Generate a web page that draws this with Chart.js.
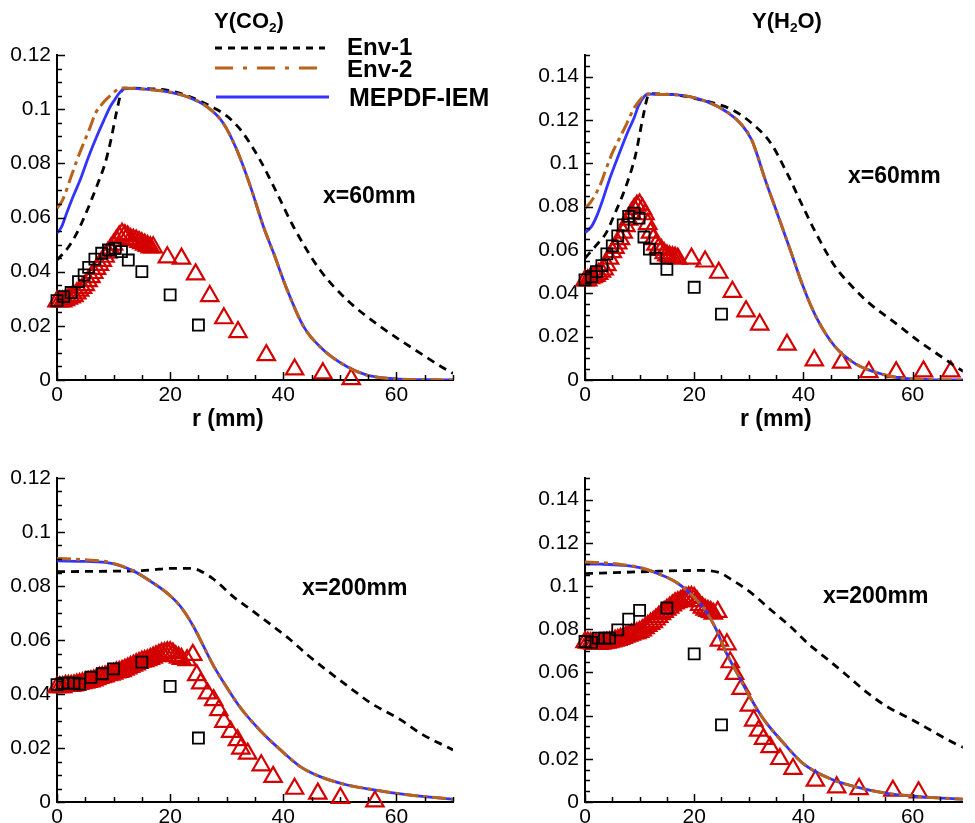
<!DOCTYPE html>
<html><head><meta charset="utf-8">
<script src="https://cdn.jsdelivr.net/npm/chart.js@4.4.1/dist/chart.umd.min.js"></script>
<style>
html,body{margin:0;padding:0;background:#fff;}
#wrap{position:relative;width:975px;height:823px;overflow:hidden;background:#fff;font-family:"Liberation Sans",Arial,Helvetica,sans-serif;}
.pan{position:absolute;}
.pan canvas{display:block;}
.txt{position:absolute;font-weight:bold;color:#000;line-height:1;white-space:nowrap;z-index:5;}
.txt sub{font-size:0.62em;vertical-align:-0.3em;line-height:0;}
#ov{position:absolute;left:0;top:0;z-index:4;pointer-events:none;}
</style></head><body>
<div id="wrap">
 <div class="pan" style="left:0;top:0;"><canvas id="c1" width="487" height="420"></canvas></div>
 <div class="pan" style="left:487px;top:0;"><canvas id="c2" width="488" height="420"></canvas></div>
 <div class="pan" style="left:0;top:420px;"><canvas id="c3" width="487" height="403"></canvas></div>
 <div class="pan" style="left:487px;top:420px;"><canvas id="c4" width="488" height="403"></canvas></div>
 <svg id="ov" width="975" height="823">
  <line x1="215" y1="48" x2="325" y2="48" stroke="#000" stroke-width="3" stroke-dasharray="7,6"/>
  <line x1="215" y1="68" x2="325" y2="68" stroke="#b8621b" stroke-width="3" stroke-dasharray="18,10,4,10"/>
  <line x1="216" y1="97" x2="329" y2="97" stroke="#3333ff" stroke-width="3"/>
 </svg>
 <div class="txt" style="left:214px;top:10px;font-size:22px;">Y(CO<sub>2</sub>)</div>
 <div class="txt" style="left:752px;top:10px;font-size:22px;">Y(H<sub>2</sub>O)</div>
 <div class="txt" style="left:347px;top:35px;font-size:24px;">Env-1</div>
 <div class="txt" style="left:347px;top:57px;font-size:24px;">Env-2</div>
 <div class="txt" style="left:349px;top:85px;font-size:25px;">MEPDF-IEM</div>
 <div class="txt" style="left:323px;top:184px;font-size:23px;">x=60mm</div>
 <div class="txt" style="left:848px;top:164px;font-size:23px;">x=60mm</div>
 <div class="txt" style="left:302px;top:576px;font-size:23px;">x=200mm</div>
 <div class="txt" style="left:823px;top:584px;font-size:23px;">x=200mm</div>
 <div class="txt" style="left:192px;top:407px;font-size:23px;">r (mm)</div>
 <div class="txt" style="left:740px;top:407px;font-size:23px;">r (mm)</div>
</div>
<script>
// ---------- tick labels ----------
const xTickLabels = ['0','20','40','60'];

// ---------- Panel 1 : Y(CO2), x=60mm ----------
const p1_e1_r = [0,2,3.5,5,7,8.5,9.4,10.6,11.4,12,15,19.4,23.5,27.7,30,32.4,35.9,38.9,41.8,46.5,51.3,57.2,64.2,68.9,70];
const p1_e1_y = [0.0443,0.049,0.0542,0.061,0.0714,0.080,0.0874,0.0997,0.1065,0.1078,0.1077,0.107,0.1046,0.1005,0.0975,0.0925,0.0812,0.0689,0.0566,0.0406,0.0295,0.0197,0.0099,0.0037,0.0025];
const p1_e2_r = [0,1,2.3,3.5,4.7,5.8,6.8,8,9.2,10.2,11,11.7,13,16,19.4,23,26.5,29.4,31.8,34.2,36.5,38.3,40.7,43.6,47.1,51.3,54.8,60.7,65,70];
const p1_e2_y = [0.0634,0.0665,0.0739,0.081,0.0874,0.093,0.0985,0.102,0.1046,0.1065,0.1077,0.1078,0.1077,0.1073,0.1065,0.1046,0.1009,0.0948,0.0849,0.0714,0.0566,0.0468,0.0332,0.0197,0.0111,0.0049,0.0018,0.0003,0.0001,0];
const p1_m_r = [0,0.8,1.7,2.9,4.1,5.5,7,8.2,9.4,10.2,11,11.9,13,16,19.4,23,26.5,29.4,31.8,34.2,36.5,38.3,40.7,43.6,47.1,51.3,54.8,60.7,65,70];
const p1_m_y = [0.0542,0.0565,0.0616,0.068,0.0739,0.082,0.0898,0.0955,0.1009,0.1035,0.1059,0.1075,0.1077,0.1073,0.1065,0.1046,0.1009,0.0948,0.0849,0.0714,0.0566,0.0468,0.0332,0.0197,0.0111,0.0049,0.0018,0.0003,0.0001,0];
const p1_tri_r = [0,0.5,1,1.5,2,2.5,3,3.5,4,4.5,5,5.5,6,6.5,7,7.5,8,8.5,9,9.5,10,10.5,11,11.5,12,12.5,13,13.5,14,14.5,15,15.5,16,16.5,17,19.5,22,24.5,27,29.5,32,37,42,47,52];
const p1_tri_y = [0.029,0.029,0.029,0.0295,0.030,0.0305,0.031,0.032,0.033,0.034,0.035,0.0365,0.038,0.0395,0.041,0.0425,0.044,0.0455,0.047,0.0485,0.050,0.0515,0.053,0.054,0.0535,0.053,0.052,0.0518,0.0515,0.051,0.0505,0.050,0.0495,0.049,0.049,0.0453,0.0448,0.039,0.031,0.0228,0.0177,0.0092,0.0039,0.0025,0.0003];
const p1_sq_r = [0,1.2,2.5,3.8,4.8,5.6,6.7,7.9,9.1,10.3,11.4,12.6,15,20,25];
const p1_sq_y = [0.0293,0.0308,0.0323,0.0363,0.0388,0.0416,0.0446,0.0468,0.048,0.0486,0.0474,0.0443,0.040,0.0314,0.0203];

// ---------- Panel 2 : Y(H2O), x=60mm ----------
const p2_e1_r = [0,2,3.85,5.5,6.8,8,9.2,10.65,11.5,12,14,16.3,21,26.9,30.5,34,37,39.9,42.3,45.8,48.8,51.8,57.1,61.2,66,68.3,70];
const p2_e1_y = [0.0562,0.062,0.0678,0.077,0.0847,0.093,0.1032,0.1217,0.131,0.1322,0.132,0.1317,0.1294,0.1248,0.1186,0.1094,0.0955,0.0801,0.0678,0.0524,0.0435,0.036,0.0258,0.0178,0.0095,0.0055,0.003];
const p2_e2_r = [0,1,2.66,3.8,5,6.2,7.4,8.3,9.2,10,10.65,11.2,13,16.3,22.2,26.3,28.7,30.5,31.6,32.8,35.2,37.6,39.9,42.3,45.8,49.4,52.9,57.1,63,70];
const p2_e2_y = [0.0793,0.082,0.0893,0.097,0.1048,0.111,0.117,0.122,0.1263,0.129,0.1309,0.132,0.1318,0.1317,0.1286,0.1232,0.1178,0.111,0.1035,0.094,0.077,0.060,0.0435,0.0293,0.0154,0.0077,0.0038,0.0012,0.0002,0];
const p2_m_r = [0,1.2,2.2,3.25,4.4,5.6,6.8,8,9,9.75,10.9,11.5,13,16.3,22.2,26.3,28.7,30.5,31.6,32.8,35.2,37.6,39.9,42.3,45.8,49.4,52.9,57.1,63,70];
const p2_m_y = [0.068,0.0709,0.076,0.0832,0.092,0.1001,0.108,0.1155,0.121,0.1263,0.131,0.132,0.1318,0.1317,0.1286,0.1232,0.1178,0.111,0.1035,0.094,0.077,0.060,0.0435,0.0293,0.0154,0.0077,0.0038,0.0012,0.0002,0];
const p2_tri_r = [0,0.5,1,1.5,2,2.5,3,3.5,4,4.5,5,5.5,6,6.5,7,7.5,8,8.5,9,9.5,10,10.5,11,11.5,12,12.5,13,13.5,14,14.5,15,15.5,16,16.5,17,19.5,22,24.5,27,29.5,32,37,42,47,52,57,62,67];
const p2_tri_y = [0.046,0.046,0.047,0.0475,0.048,0.049,0.050,0.051,0.053,0.056,0.059,0.061,0.063,0.065,0.068,0.071,0.074,0.077,0.079,0.0805,0.081,0.079,0.0765,0.072,0.068,0.065,0.0625,0.061,0.060,0.0585,0.0575,0.057,0.0567,0.0565,0.056,0.056,0.0547,0.0495,0.0407,0.0317,0.0256,0.0163,0.0091,0.008,0.0036,0.0036,0.004,0.004];
const p2_sq_r = [0,1.2,2.1,3.1,4,5,6,7,8,9,9.9,10.8,11.8,13,15,20,25];
const p2_sq_y = [0.0462,0.0477,0.050,0.0528,0.0582,0.0619,0.0665,0.0716,0.0755,0.077,0.0747,0.066,0.0604,0.0562,0.0511,0.0428,0.0304];

// ---------- Panel 3 : Y(CO2), x=200mm ----------
const p3_e1_r = [0,5,10,15,17,20,24,25.3,27.7,31.2,34.7,37.1,41.2,44.2,48.3,53,55.4,60.7,64.2,70];
const p3_e1_y = [0.0853,0.0854,0.0855,0.0857,0.086,0.0865,0.0865,0.0856,0.0825,0.0760,0.0706,0.0668,0.0602,0.0546,0.0478,0.0404,0.0367,0.0305,0.0255,0.0193];
const p3_e2_r = [0,5,9.4,13.5,16.5,19.4,21.8,24.1,25.9,27.7,30,32.4,35.9,39.5,43,46.5,51.3,56,60.7,70];
const p3_e2_y = [0.0902,0.0897,0.0887,0.0856,0.0818,0.0775,0.0725,0.0651,0.0577,0.0503,0.0425,0.0350,0.0265,0.0193,0.0131,0.0094,0.0063,0.0045,0.003,0.001];
const p3_m_r = [0,5,9.4,13.5,16.5,19.4,21.8,24.1,25.9,27.7,30,32.4,35.9,39.5,43,46.5,51.3,56,60.7,70];
const p3_m_y = [0.0893,0.0891,0.0885,0.0856,0.0818,0.0775,0.0725,0.0651,0.0577,0.0503,0.0425,0.0350,0.0265,0.0193,0.0131,0.0094,0.0063,0.0045,0.003,0.001];
const p3_tri_r = [0,0.5,1,1.5,2,2.5,3,3.5,4,4.5,5,5.5,6,6.5,7,7.5,8,8.5,9,9.5,10,10.5,11,11.5,12,12.5,13,13.5,14,14.5,15,15.5,16,16.5,17,17.5,18,18.5,19,19.5,20,20.5,21,21.5,22,23,24,24.7,25.4,26.6,27.7,28.6,29.5,30.7,31.9,32.5,33.7,36.1,38.2,42,46.1,50.1,56.2];
const p3_tri_y = [0.0425,0.0425,0.0425,0.043,0.043,0.043,0.0432,0.0435,0.0437,0.044,0.0442,0.0445,0.0447,0.045,0.0455,0.046,0.0462,0.0465,0.047,0.0472,0.0475,0.048,0.0482,0.0485,0.049,0.0495,0.050,0.0505,0.051,0.0515,0.052,0.0522,0.0525,0.053,0.0535,0.054,0.0545,0.055,0.0552,0.0555,0.0555,0.055,0.054,0.0535,0.053,0.0525,0.0545,0.047,0.0439,0.0402,0.0377,0.034,0.0297,0.026,0.0229,0.0198,0.0179,0.0136,0.0093,0.0049,0.0031,0.0015,0.0002];
const p3_sq_r = [0,1,2,3,4,6,8,10,15,20,25];
const p3_sq_y = [0.0435,0.044,0.044,0.044,0.0437,0.0462,0.0475,0.0493,0.0518,0.0428,0.0237];

// ---------- Panel 4 : Y(H2O), x=200mm ----------
const p4_e1_r = [0,3,6.8,12.7,17,21,24.5,26.9,30.5,34,37.6,41.1,44.7,48.2,51.8,55.3,60,64.8,68.3,70];
const p4_e1_y = [0.1057,0.106,0.1063,0.1068,0.1071,0.1072,0.1063,0.1029,0.0967,0.089,0.0813,0.0728,0.0655,0.0581,0.0504,0.0442,0.038,0.0311,0.0264,0.0245];
const p4_e2_r = [0,3,6.8,10.4,13.9,16.9,19.8,22.2,24,25.7,28.1,30.5,32.8,36.4,39.9,44.7,49.4,55.3,61.2,68.3,70];
const p4_e2_y = [0.1111,0.1108,0.1099,0.1083,0.1052,0.1014,0.0952,0.0882,0.0800,0.0700,0.0585,0.0473,0.038,0.0272,0.0179,0.011,0.0071,0.004,0.0025,0.0014,0.0012];
const p4_m_r = [0,3,6.8,10.4,13.9,16.9,19.8,22.2,24,25.7,28.1,30.5,32.8,36.4,39.9,44.7,49.4,55.3,61.2,68.3,70];
const p4_m_y = [0.1102,0.1101,0.1096,0.1083,0.1052,0.1014,0.0952,0.0882,0.0800,0.0700,0.0585,0.0473,0.038,0.0272,0.0179,0.011,0.0071,0.004,0.0025,0.0014,0.0012];
const p4_tri_r = [0,0.5,1,1.5,2,2.5,3,3.5,4,4.5,5,5.5,6,6.5,7,7.5,8,8.5,9,9.5,10,10.5,11,11.5,12,12.5,13,13.5,14,14.5,15,15.5,16,16.5,17,17.5,18,18.5,19,19.5,20,20.5,21,21.5,22,22.5,23,23.5,24.3,24.6,26,26.6,27.4,28.6,30.1,30.9,31.8,32.7,33.9,35.7,38.1,42.2,46.1,50.2,56.4,61.1];
const p4_tri_y = [0.074,0.0738,0.0735,0.0733,0.0732,0.0732,0.0733,0.0735,0.0738,0.074,0.0743,0.0747,0.075,0.0755,0.076,0.0765,0.077,0.0775,0.078,0.0782,0.0787,0.0795,0.0805,0.0815,0.0825,0.0833,0.0845,0.0857,0.087,0.088,0.089,0.090,0.091,0.092,0.0925,0.093,0.094,0.0945,0.0948,0.0949,0.0945,0.093,0.0912,0.090,0.089,0.0885,0.088,0.0872,0.088,0.0747,0.073,0.0647,0.0593,0.0524,0.0446,0.0377,0.033,0.0292,0.0254,0.0199,0.0153,0.0099,0.0068,0.006,0.0052,0.0045];
const p4_sq_r = [0,1.2,2.4,3.6,4.5,6,8,10,15,20,25];
const p4_sq_y = [0.0743,0.0739,0.0759,0.0759,0.0759,0.0797,0.0847,0.0887,0.0898,0.0686,0.0357];

// ---------- styles ----------
const C_ENV1 = '#000000', C_ENV2 = '#b8621b', C_MEP = '#3333ff', C_TRI = '#d40000', C_SQ = '#000000';
const FONT = '"Liberation Sans", Arial, Helvetica, sans-serif';

function pts(r, v){ return r.map((x,i)=>({x:x, y:v[i]})); }
function lineDS(label, r, v, color, width, dash, order){
  return {label, data: pts(r,v), showLine:true, pointRadius:0, borderColor:color, borderWidth:width,
          borderDash:dash, cubicInterpolationMode:'monotone', fill:false, order};
}
function markDS(label, r, v, style, radius, color, bw, order){
  return {label, data: pts(r,v), showLine:false, pointStyle:style, pointRadius:radius,
          pointBorderColor:color, pointBackgroundColor:'rgba(0,0,0,0)', pointBorderWidth:bw,
          borderColor:color, clip:false, order};
}

const inwardTicks = {
  id:'inwardTicks',
  afterDraw(chart){
    const ctx = chart.ctx, a = chart.chartArea, xs = chart.scales.x, ys = chart.scales.y;
    ctx.save();
    ctx.strokeStyle = '#000'; ctx.lineWidth = 1.5;
    ctx.beginPath();
    for (let i = 0; i * 5 <= xs.max + 1e-9; i++) {
      const px = Math.round(xs.getPixelForValue(i * 5)) + 0.5;
      const L = (i % 4 === 0) ? 8 : 5;
      ctx.moveTo(px, a.bottom); ctx.lineTo(px, a.bottom - L);
    }
    for (let i = 0; i * 0.005 <= ys.max + 1e-9; i++) {
      const py = Math.round(ys.getPixelForValue(i * 0.005)) + 0.5;
      const L = (i % 4 === 0) ? 8 : 5;
      ctx.moveTo(a.left, py); ctx.lineTo(a.left + L, py);
    }
    ctx.stroke();
    ctx.restore();
  }
};

function makePanel(id, W, H, area, xmax, ymax, d){
  const datasets = [
    lineDS('Env-2', d.e2r, d.e2y, C_ENV2, 3, [14,5,4,5], 0),
    lineDS('MEPDF-IEM', d.mr, d.my, C_MEP, 2.8, [], 1),
    lineDS('Env-1', d.e1r, d.e1y, C_ENV1, 2.8, [8,6], 2),
    markDS('Exp-sq', d.sqr, d.sqy, 'rect', 7.8, C_SQ, 1.8, 3),
    markDS('Exp-tri', d.trr, d.try, 'triangle', 10, C_TRI, 2.2, 4)
  ];
  new Chart(document.getElementById(id), {
    type:'scatter',
    data:{datasets},
    options:{
      responsive:false, animation:false, events:[],
      layout:{padding:{top:area.top, right:W-area.right, left:0, bottom:0}},
      plugins:{legend:{display:false}, tooltip:{enabled:false}, title:{display:false}},
      scales:{
        x:{type:'linear', min:0, max:xmax,
           grid:{display:false, drawTicks:false},
           border:{display:true, color:'#000', width:2},
           ticks:{stepSize:20, includeBounds:false, padding:3, color:'#000', maxRotation:0,
                  font:{family:FONT, size:21},
                  callback:(v)=>{ const s = String(Math.round(v)); return xTickLabels.includes(s) ? s : ''; }},
           afterFit:(s)=>{ s.height = H - area.bottom; }},
        y:{type:'linear', min:0, max:ymax,
           grid:{display:false, drawTicks:false},
           border:{display:true, color:'#000', width:2},
           ticks:{stepSize:0.02, includeBounds:false, padding:6, color:'#000',
                  font:{family:FONT, size:21},
                  callback:(v)=>String(Number(v.toFixed(3)))},
           afterFit:(s)=>{ s.width = area.left; }}
      }
    },
    plugins:[inwardTicks]
  });
}

makePanel('c1', 487, 420, {left:57, top:55, right:453, bottom:380}, 70, 0.12,
  {e1r:p1_e1_r, e1y:p1_e1_y, e2r:p1_e2_r, e2y:p1_e2_y, mr:p1_m_r, my:p1_m_y, trr:p1_tri_r, try:p1_tri_y, sqr:p1_sq_r, sqy:p1_sq_y});
makePanel('c2', 488, 420, {left:98, top:55, right:488, bottom:380}, 69.2, 0.15,
  {e1r:p2_e1_r, e1y:p2_e1_y, e2r:p2_e2_r, e2y:p2_e2_y, mr:p2_m_r, my:p2_m_y, trr:p2_tri_r, try:p2_tri_y, sqr:p2_sq_r, sqy:p2_sq_y});
makePanel('c3', 487, 403, {left:57, top:58, right:453, bottom:382}, 70, 0.12,
  {e1r:p3_e1_r, e1y:p3_e1_y, e2r:p3_e2_r, e2y:p3_e2_y, mr:p3_m_r, my:p3_m_y, trr:p3_tri_r, try:p3_tri_y, sqr:p3_sq_r, sqy:p3_sq_y});
makePanel('c4', 488, 403, {left:98, top:58, right:488, bottom:382}, 69.2, 0.15,
  {e1r:p4_e1_r, e1y:p4_e1_y, e2r:p4_e2_r, e2y:p4_e2_y, mr:p4_m_r, my:p4_m_y, trr:p4_tri_r, try:p4_tri_y, sqr:p4_sq_r, sqy:p4_sq_y});
</script>
</body></html>
